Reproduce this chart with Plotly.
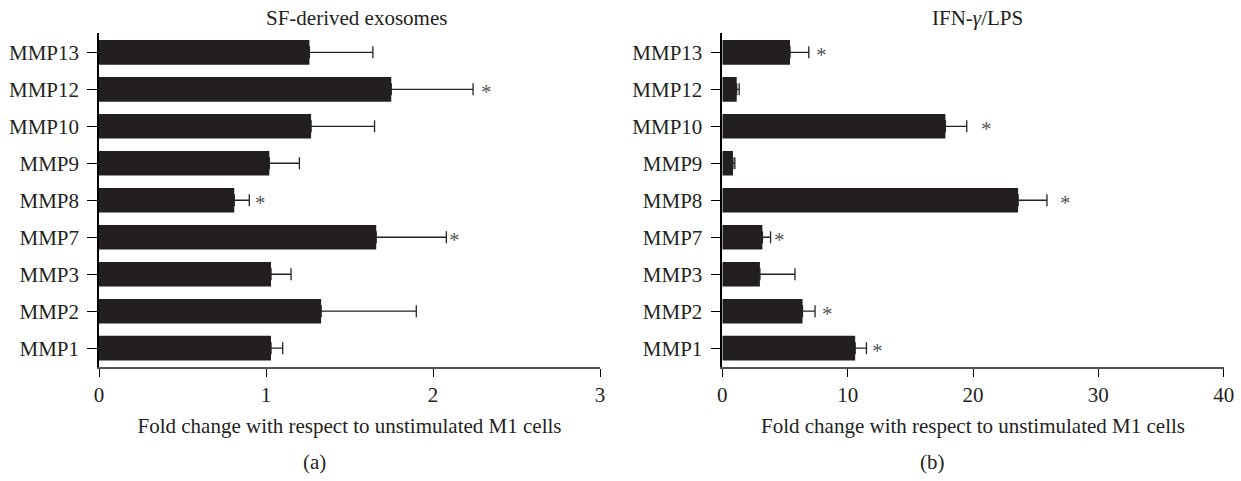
import plotly.graph_objects as go

categories = ["MMP1", "MMP2", "MMP3", "MMP7", "MMP8", "MMP9", "MMP10", "MMP12", "MMP13"]

sf_values = [1.03, 1.33, 1.03, 1.66, 0.81, 1.02, 1.27, 1.75, 1.26]
sf_err_upper = [1.10, 1.90, 1.15, 2.08, 0.90, 1.20, 1.65, 2.24, 1.64]
sf_star = [None, None, None, 2.13, 0.97, None, None, 2.32, None]

ifn_values = [10.6, 6.4, 3.0, 3.2, 23.6, 0.85, 17.8, 1.15, 5.4]
ifn_err_upper = [11.5, 7.4, 5.8, 3.85, 25.9, 1.0, 19.5, 1.35, 6.9]
ifn_star = [12.4, 8.4, None, 4.6, 27.4, None, 21.1, None, 7.9]

titles = ["SF-derived exosomes", "IFN-<i>γ</i>/LPS"]
x_tick_vals = [[0, 1, 2, 3], [0, 10, 20, 30, 40]]
x_ranges = [[0, 3], [0, 40]]
x_title = "Fold change with respect to unstimulated M1 cells"
panel_labels = ["(a)", "(b)"]

FONT = "Liberation Serif, Times New Roman, serif"
FS = 21
BAR = "#231f20"
TXT = "#231f20"

fig = go.Figure()

panels = [
    (sf_values, sf_err_upper, sf_star, "x", "y"),
    (ifn_values, ifn_err_upper, ifn_star, "x2", "y2"),
]

for vals, errs, stars, xa, ya in panels:
    plus = [e - v for e, v in zip(errs, vals)]
    fig.add_trace(go.Bar(
        x=vals, y=categories, orientation="h",
        marker=dict(color=BAR, line=dict(width=0)),
        width=0.667,
        error_x=dict(type="data", symmetric=False, array=plus,
                     arrayminus=[0] * len(vals), color="#222222",
                     thickness=1.3, width=6),
        xaxis=xa, yaxis=ya, showlegend=False, hoverinfo="x+y",
    ))
    for c, s in zip(categories, stars):
        if s is not None:
            fig.add_annotation(x=s, y=c, xref=xa, yref=ya, text="*",
                               showarrow=False, yshift=-3,
                               font=dict(family=FONT, size=21, color="#555555"))

common_y = dict(
    type="category", categoryorder="array", categoryarray=categories,
    range=[-0.5, 8.53], showline=True, linecolor="#000000", linewidth=1.5,
    ticks="outside", ticklen=10, tickcolor="#000000", tickwidth=1.2,
    showgrid=False, zeroline=False, ticklabelstandoff=4, automargin=False,
    tickfont=dict(family=FONT, size=FS, color=TXT),
)
fig.update_layout(
    width=1241, height=481,
    margin=dict(l=0, r=0, t=0, b=0),
    paper_bgcolor="white", plot_bgcolor="white",
    xaxis=dict(domain=[99 / 1241, 600 / 1241], anchor="y"),
    yaxis=dict(domain=[(481 - 366.7) / 481, (481 - 32.7) / 481], anchor="x", **common_y),
    xaxis2=dict(domain=[722.3 / 1241, 1223.7 / 1241], anchor="y2"),
    yaxis2=dict(domain=[(481 - 366.7) / 481, (481 - 32.7) / 481], anchor="x2", **common_y),
)

for i, xa in enumerate(["xaxis", "xaxis2"]):
    fig.layout[xa].update(
        range=x_ranges[i], tickvals=x_tick_vals[i], automargin=False,
        showline=True, linecolor="#555555", linewidth=2,
        ticks="outside", ticklen=8, tickcolor="#000000", tickwidth=1.2,
        showgrid=False, zeroline=False,
        tickfont=dict(family=FONT, size=FS, color=TXT),
        title=dict(text=x_title, font=dict(family=FONT, size=FS, color=TXT), standoff=12),
    )

# panel titles and labels
for txt, xp, yp in [(titles[0], 356, 18), (titles[1], 977, 18),
                    (panel_labels[0], 314, 462), (panel_labels[1], 932, 462)]:
    fig.add_annotation(x=xp / 1241, y=1 - yp / 481, xref="paper", yref="paper",
                       text=txt, showarrow=False, xanchor="center", yanchor="middle",
                       font=dict(family=FONT, size=FS, color=TXT))

fig.write_html("out.html",
               config={"displayModeBar": False},
               post_script="document.body.style.margin='0';document.body.style.overflow='hidden';")
